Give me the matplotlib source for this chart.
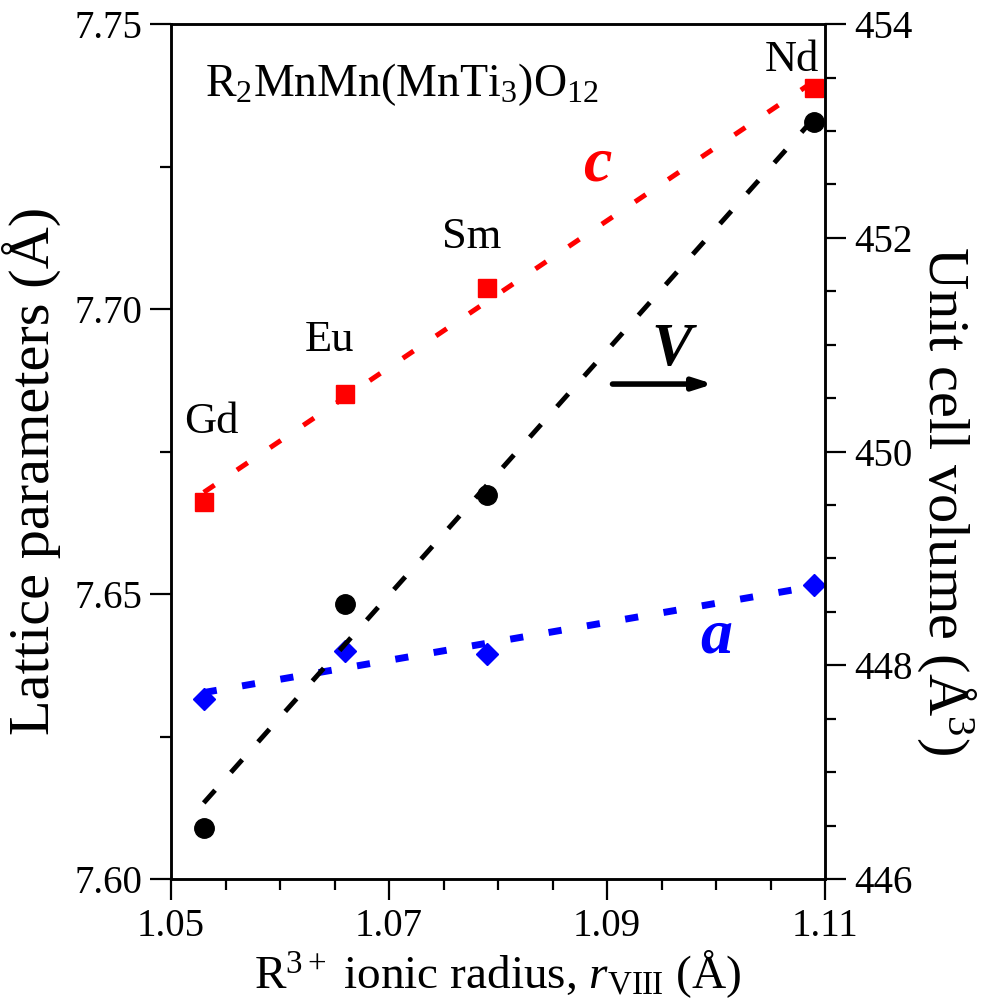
import numpy as np
import matplotlib
matplotlib.use("Agg")
import matplotlib.pyplot as plt
from matplotlib.ticker import MultipleLocator

plt.rcParams['font.family'] = ['Liberation Serif', 'DejaVu Serif']
plt.rcParams['mathtext.fontset'] = 'custom'
plt.rcParams['mathtext.rm'] = 'Liberation Serif'
plt.rcParams['mathtext.it'] = 'Liberation Serif:italic'
plt.rcParams['mathtext.bf'] = 'Liberation Serif:bold'

# R3+ ionic radius (8-fold), A
elements = ["Gd", "Eu", "Sm", "Nd"]
radius = [1.053, 1.066, 1.079, 1.109]
# lattice parameters, A
lat_a = [7.6315, 7.6400, 7.6394, 7.6516]
lat_c = [7.6662, 7.6851, 7.7037, 7.7388]
# unit cell volume, A^3
volume = [446.48, 448.57, 449.59, 453.08]
xticks = [1.05, 1.07, 1.09, 1.11]

fig = plt.figure(figsize=(9.87, 10.08), dpi=100)
ax = fig.add_axes([0.1733, 0.128, 0.6626, 0.848])
ax2 = ax.twinx()

# linear fits
xf = np.array([radius[0], radius[-1]])
fit_c = np.polyval(np.polyfit(radius, lat_c, 1), xf)
fit_a = np.polyval(np.polyfit(radius, lat_a, 1), xf)
fit_v = np.polyval(np.polyfit(radius, volume, 1), xf)

ax.plot(radius, lat_c, 's', color='#ff0000', ms=13, zorder=2)
ax.plot(radius, lat_a, 'D', color='#0000ff', ms=11, zorder=2)
ax.plot(xf, fit_c, color='#ff0000', lw=3.6, ls=(0, (2.6, 5.4)), zorder=3)
ax.plot(xf, fit_a, color='#0000ff', lw=5, ls=(0, (1.9, 3.7)), zorder=3)
ax2.plot(radius, volume, 'o', color='black', ms=14, zorder=2)
ax2.plot(xf, fit_v, color='black', lw=3.5, ls=(0, (3.5, 4.9)), zorder=3)

ax.set_xlim(1.05, 1.11)
ax.set_ylim(7.60, 7.75)
ax2.set_ylim(446, 454)
ax.set_xticks(xticks)
ax.xaxis.set_minor_locator(MultipleLocator(0.005))
ax.yaxis.set_major_locator(MultipleLocator(0.05))
ax.yaxis.set_minor_locator(MultipleLocator(0.025))
ax2.yaxis.set_major_locator(MultipleLocator(2))
ax2.yaxis.set_minor_locator(MultipleLocator(0.5))
ax.xaxis.set_major_formatter(plt.FormatStrFormatter('%.2f'))
ax.yaxis.set_major_formatter(plt.FormatStrFormatter('%.2f'))

for a in (ax, ax2):
    for s in a.spines.values():
        s.set_linewidth(1.8)
    a.tick_params(which='major', direction='out', length=15, width=1.6,
                  labelsize=28, pad=6)
    a.tick_params(which='minor', direction='out', length=8, width=1.6)
ax.tick_params(axis='y', which='both', right=False)
ax.tick_params(axis='x', which='both', top=False)

ax.set_xlabel(r'R$^{3+}$ ionic radius, $r_{\rm VIII}$ (Å)', fontsize=34, labelpad=2)
ax.set_ylabel('Lattice parameters (Å)', fontsize=42)
ax.yaxis.set_label_coords(-0.168, 0.478)
ax2.set_ylabel(r'Unit cell volume (Å$^3$)', fontsize=42, rotation=270,
               va='bottom')
ax2.yaxis.set_label_coords(1.138, 0.443)

ax.text(0.052, 0.929, r'R$_2$MnMn(MnTi$_3$)O$_{12}$', transform=ax.transAxes,
        fontsize=33, ha='left', va='center')
label_pos = [(0.061, 0.535), (0.243, 0.630), (0.460, 0.751), (0.950, 0.958)]
for name, (px, py) in zip(elements, label_pos):
    ax.text(px, py, name, transform=ax.transAxes, fontsize=32,
            ha='center', va='center')

ax.text(0.651, 0.835, 'c', transform=ax.transAxes, fontsize=46, color='#ff0000',
        fontweight='bold', fontstyle='italic', ha='center', va='center')
ax.text(0.833, 0.283, 'a', transform=ax.transAxes, fontsize=46, color='#0000ff',
        fontweight='bold', fontstyle='italic', ha='center', va='center')
ax.text(0.766, 0.619, 'V', transform=ax.transAxes, fontsize=44, color='black',
        fontweight='bold', fontstyle='italic', ha='center', va='center')
ax.annotate('', xy=(0.829, 0.579), xytext=(0.675, 0.579),
            xycoords='axes fraction', textcoords='axes fraction',
            arrowprops=dict(arrowstyle='-|>,head_length=1.1,head_width=0.35',
                            lw=4, color='black', shrinkA=0, shrinkB=0))

fig.savefig('out.png', dpi=100)
